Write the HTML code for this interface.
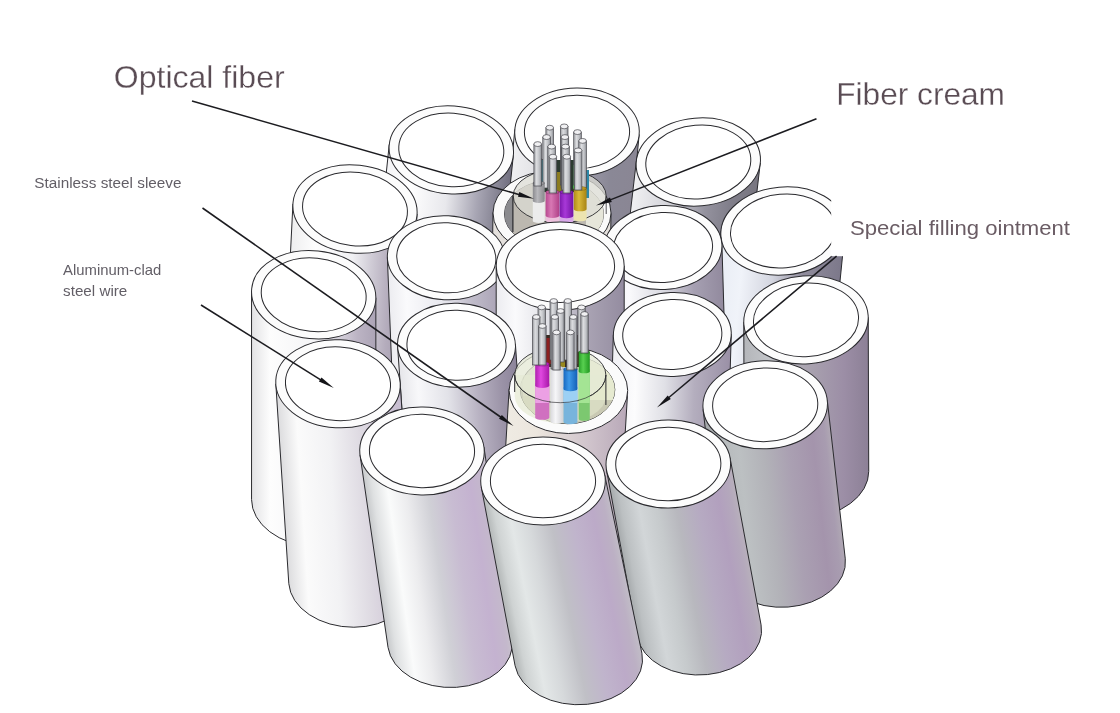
<!DOCTYPE html>
<html><head><meta charset="utf-8"><title>Cable structure</title>
<style>
html,body{margin:0;padding:0;background:#ffffff;}
body{width:1120px;height:713px;overflow:hidden;font-family:"Liberation Sans",sans-serif;}
svg{display:block;}
svg text{font-family:"Liberation Sans",sans-serif;}
#labels{filter:blur(0.35px);}
</style></head><body>
<svg width="1120" height="713" viewBox="0 0 1120 713">
<defs>
<linearGradient id="g_rod" x1="0" y1="0" x2="1" y2="0"><stop offset="0" stop-color="#9a9ca0"/><stop offset="0.35" stop-color="#dcdde0"/><stop offset="0.7" stop-color="#c0c2c6"/><stop offset="1" stop-color="#8c8e94"/></linearGradient>
<linearGradient id="k_pink" x1="0" y1="0" x2="1" y2="0"><stop offset="0" stop-color="#b84890"/><stop offset="0.4" stop-color="#d878b4"/><stop offset="1" stop-color="#b04088"/></linearGradient>
<linearGradient id="k_purple" x1="0" y1="0" x2="1" y2="0"><stop offset="0" stop-color="#7c18ac"/><stop offset="0.4" stop-color="#a838d8"/><stop offset="1" stop-color="#7414a4"/></linearGradient>
<linearGradient id="k_yellow" x1="0" y1="0" x2="1" y2="0"><stop offset="0" stop-color="#b08c18"/><stop offset="0.4" stop-color="#d8b838"/><stop offset="1" stop-color="#a88414"/></linearGradient>
<linearGradient id="k_grey" x1="0" y1="0" x2="1" y2="0"><stop offset="0" stop-color="#8c8c90"/><stop offset="0.4" stop-color="#b8b8bc"/><stop offset="1" stop-color="#88888c"/></linearGradient>
<linearGradient id="k_mag" x1="0" y1="0" x2="1" y2="0"><stop offset="0" stop-color="#b020b0"/><stop offset="0.4" stop-color="#e048e0"/><stop offset="1" stop-color="#a818a8"/></linearGradient>
<linearGradient id="k_white" x1="0" y1="0" x2="1" y2="0"><stop offset="0" stop-color="#d8d8dc"/><stop offset="0.4" stop-color="#f6f6f8"/><stop offset="1" stop-color="#d0d0d4"/></linearGradient>
<linearGradient id="k_blue" x1="0" y1="0" x2="1" y2="0"><stop offset="0" stop-color="#1868c0"/><stop offset="0.4" stop-color="#3c98e8"/><stop offset="1" stop-color="#1460b8"/></linearGradient>
<linearGradient id="k_green" x1="0" y1="0" x2="1" y2="0"><stop offset="0" stop-color="#28a028"/><stop offset="0.4" stop-color="#58d050"/><stop offset="1" stop-color="#209820"/></linearGradient>
<linearGradient id="gc_c2" gradientUnits="userSpaceOnUse" x1="527.21" y1="0" x2="651.81" y2="0" gradientTransform="matrix(1 0 -0.0947 1 0 0)"><stop offset="0" stop-color="#f0f0f2"/><stop offset="0.3" stop-color="#dcdce0"/><stop offset="0.6" stop-color="#9c9aa8"/><stop offset="0.8" stop-color="#8a8896"/><stop offset="1" stop-color="#8a8694"/></linearGradient>
<linearGradient id="gc_c1" gradientUnits="userSpaceOnUse" x1="404.78" y1="0" x2="529.38" y2="0" gradientTransform="matrix(1 0 -0.1053 1 0 0)"><stop offset="0" stop-color="#f4f4f6"/><stop offset="0.2" stop-color="#ffffff"/><stop offset="0.5" stop-color="#e8e8ec"/><stop offset="0.75" stop-color="#a8a6b4"/><stop offset="1" stop-color="#727080"/></linearGradient>
<linearGradient id="gc_c3" gradientUnits="userSpaceOnUse" x1="654.76" y1="0" x2="779.36" y2="0" gradientTransform="matrix(1 0 -0.1158 1 0 0)"><stop offset="0" stop-color="#f0f0f2"/><stop offset="0.3" stop-color="#d4d4da"/><stop offset="0.6" stop-color="#94929e"/><stop offset="0.8" stop-color="#807e8a"/><stop offset="1" stop-color="#787680"/></linearGradient>
<linearGradient id="gc_c4" gradientUnits="userSpaceOnUse" x1="303.15" y1="0" x2="427.75" y2="0" gradientTransform="matrix(1 0 -0.0500 1 0 0)"><stop offset="0" stop-color="#eeeeef"/><stop offset="0.2" stop-color="#fefefe"/><stop offset="0.5" stop-color="#f0f0f3"/><stop offset="0.65" stop-color="#d0ccd6"/><stop offset="0.8" stop-color="#b4acbc"/><stop offset="1" stop-color="#9c94a8"/></linearGradient>
<linearGradient id="gc_c6" gradientUnits="userSpaceOnUse" x1="743.80" y1="0" x2="868.40" y2="0" gradientTransform="matrix(1 0 -0.1000 1 0 0)"><stop offset="0" stop-color="#e8ecf4"/><stop offset="0.2" stop-color="#f0f3f9"/><stop offset="0.45" stop-color="#d4d6e0"/><stop offset="0.7" stop-color="#908c9c"/><stop offset="1" stop-color="#7c788a"/></linearGradient>
<linearGradient id="gc_c9" gradientUnits="userSpaceOnUse" x1="596.58" y1="0" x2="714.58" y2="0" gradientTransform="matrix(1 0 0.0300 1 0 0)"><stop offset="0" stop-color="#eeeef2"/><stop offset="0.2" stop-color="#fafafc"/><stop offset="0.5" stop-color="#d8d8e0"/><stop offset="0.75" stop-color="#a6a0b2"/><stop offset="1" stop-color="#928a9e"/></linearGradient>
<linearGradient id="gc_c7" gradientUnits="userSpaceOnUse" x1="376.99" y1="0" x2="494.99" y2="0" gradientTransform="matrix(1 0 0.0400 1 0 0)"><stop offset="0" stop-color="#ececf0"/><stop offset="0.15" stop-color="#fafafc"/><stop offset="0.45" stop-color="#e8e8ee"/><stop offset="0.7" stop-color="#c0bcca"/><stop offset="1" stop-color="#a49cb0"/></linearGradient>
<linearGradient id="gc_c8" gradientUnits="userSpaceOnUse" x1="496.20" y1="0" x2="624.20" y2="0" gradientTransform="matrix(1 0 0.0000 1 0 0)"><stop offset="0" stop-color="#ececf0"/><stop offset="0.15" stop-color="#fafafc"/><stop offset="0.45" stop-color="#dcdce2"/><stop offset="0.7" stop-color="#aaa4b4"/><stop offset="1" stop-color="#948ca0"/></linearGradient>
<linearGradient id="gc_c10" gradientUnits="userSpaceOnUse" x1="251.40" y1="0" x2="376.00" y2="0" gradientTransform="matrix(1 0 0.0000 1 0 0)"><stop offset="0" stop-color="#e2e2e4"/><stop offset="0.15" stop-color="#fdfdfd"/><stop offset="0.5" stop-color="#f4f4f6"/><stop offset="0.7" stop-color="#d6d2dc"/><stop offset="0.85" stop-color="#bcb4c4"/><stop offset="1" stop-color="#aca4b6"/></linearGradient>
<linearGradient id="gc_c11" gradientUnits="userSpaceOnUse" x1="742.66" y1="0" x2="867.26" y2="0" gradientTransform="matrix(1 0 0.0032 1 0 0)"><stop offset="0" stop-color="#b4b6ba"/><stop offset="0.2" stop-color="#c2c4c8"/><stop offset="0.5" stop-color="#aaa4b0"/><stop offset="0.8" stop-color="#9c8ea6"/><stop offset="1" stop-color="#8c8096"/></linearGradient>
<linearGradient id="gc_c13" gradientUnits="userSpaceOnUse" x1="623.33" y1="0" x2="741.33" y2="0" gradientTransform="matrix(1 0 -0.0300 1 0 0)"><stop offset="0" stop-color="#f0f0f4"/><stop offset="0.2" stop-color="#fcfcfd"/><stop offset="0.45" stop-color="#e0e0e6"/><stop offset="0.7" stop-color="#b4aebe"/><stop offset="1" stop-color="#9a90a6"/></linearGradient>
<linearGradient id="gc_c12" gradientUnits="userSpaceOnUse" x1="373.33" y1="0" x2="491.33" y2="0" gradientTransform="matrix(1 0 0.0700 1 0 0)"><stop offset="0" stop-color="#e6e6ea"/><stop offset="0.15" stop-color="#f8f8fa"/><stop offset="0.4" stop-color="#e2e2e8"/><stop offset="0.65" stop-color="#b8b2c2"/><stop offset="0.85" stop-color="#9c94a8"/><stop offset="1" stop-color="#8c849a"/></linearGradient>
<linearGradient id="gc_c14" gradientUnits="userSpaceOnUse" x1="250.73" y1="0" x2="375.33" y2="0" gradientTransform="matrix(1 0 0.0651 1 0 0)"><stop offset="0" stop-color="#dcdcde"/><stop offset="0.15" stop-color="#fbfbfb"/><stop offset="0.4" stop-color="#f2f2f4"/><stop offset="0.65" stop-color="#dedae2"/><stop offset="0.85" stop-color="#cfc6d6"/><stop offset="1" stop-color="#c6bcd0"/></linearGradient>
<linearGradient id="g_t2" x1="0" y1="0" x2="1" y2="0"><stop offset="0" stop-color="#f0ece4"/><stop offset="0.3" stop-color="#ece6de"/><stop offset="0.7" stop-color="#d0c4cc"/><stop offset="1" stop-color="#b8a8b8"/></linearGradient>
<linearGradient id="gc_c16" gradientUnits="userSpaceOnUse" x1="656.99" y1="0" x2="781.59" y2="0" gradientTransform="matrix(1 0 0.1134 1 0 0)"><stop offset="0" stop-color="#a4a8aa"/><stop offset="0.1" stop-color="#b6babc"/><stop offset="0.25" stop-color="#bcc0c2"/><stop offset="0.45" stop-color="#b2b2b8"/><stop offset="0.65" stop-color="#aaa0b2"/><stop offset="0.85" stop-color="#a494ac"/><stop offset="0.95" stop-color="#a89cb0"/><stop offset="1" stop-color="#b0a8b4"/></linearGradient>
<linearGradient id="gc_c17" gradientUnits="userSpaceOnUse" x1="294.10" y1="0" x2="418.70" y2="0" gradientTransform="matrix(1 0 0.1455 1 0 0)"><stop offset="0" stop-color="#c8cacc"/><stop offset="0.06" stop-color="#dfe1e2"/><stop offset="0.18" stop-color="#fafbfb"/><stop offset="0.32" stop-color="#ececee"/><stop offset="0.5" stop-color="#d0d0d6"/><stop offset="0.68" stop-color="#c8bcd2"/><stop offset="0.85" stop-color="#c4b2d0"/><stop offset="0.95" stop-color="#c4b8cc"/><stop offset="1" stop-color="#c8c2cc"/></linearGradient>
<linearGradient id="gc_c19" gradientUnits="userSpaceOnUse" x1="519.87" y1="0" x2="644.47" y2="0" gradientTransform="matrix(1 0 0.1856 1 0 0)"><stop offset="0" stop-color="#a8acae"/><stop offset="0.06" stop-color="#bcc0c2"/><stop offset="0.2" stop-color="#d2d6d8"/><stop offset="0.35" stop-color="#c6cacc"/><stop offset="0.5" stop-color="#b8b8be"/><stop offset="0.68" stop-color="#b6aac2"/><stop offset="0.85" stop-color="#b2a0be"/><stop offset="0.95" stop-color="#b4a8bc"/><stop offset="1" stop-color="#b8b0bc"/></linearGradient>
<linearGradient id="gc_c18" gradientUnits="userSpaceOnUse" x1="385.04" y1="0" x2="509.64" y2="0" gradientTransform="matrix(1 0 0.1989 1 0 0)"><stop offset="0" stop-color="#b8bcbc"/><stop offset="0.06" stop-color="#cfd3d3"/><stop offset="0.18" stop-color="#e3e7e7"/><stop offset="0.32" stop-color="#d6d9db"/><stop offset="0.5" stop-color="#c0c0c6"/><stop offset="0.68" stop-color="#c0b4cc"/><stop offset="0.85" stop-color="#bcaac8"/><stop offset="0.95" stop-color="#bcb0c4"/><stop offset="1" stop-color="#c0bac6"/></linearGradient>
</defs>
<rect width="1120" height="713" fill="#ffffff"/>
<g id="c2"><path d="M514.84 129.41 L496.84 319.41 A62.30 44.00 -0.65 0 0 621.16 324.59 L639.16 134.59 Z" fill="url(#gc_c2)" stroke="#2a2a2e" stroke-width="1"/><ellipse cx="577.00" cy="132.00" rx="62.30" ry="44.00" transform="rotate(-0.65 577.00 132.00)" fill="#fcfcfc" stroke="#2a2a2e" stroke-width="1"/><ellipse cx="577.00" cy="132.00" rx="52.60" ry="36.80" transform="rotate(-0.65 577.00 132.00)" fill="#ffffff" stroke="#2a2a2e" stroke-width="1"/></g>
<g id="c1"><path d="M389.25 144.48 L369.25 334.48 A62.30 44.00 3.98 0 0 493.35 345.32 L513.35 155.32 Z" fill="url(#gc_c1)" stroke="#2a2a2e" stroke-width="1"/><ellipse cx="451.30" cy="149.90" rx="62.30" ry="44.00" transform="rotate(3.98 451.30 149.90)" fill="#fcfcfc" stroke="#2a2a2e" stroke-width="1"/><ellipse cx="451.30" cy="149.90" rx="52.60" ry="36.80" transform="rotate(3.98 451.30 149.90)" fill="#ffffff" stroke="#2a2a2e" stroke-width="1"/></g>
<g id="c3"><path d="M636.33 161.04 L614.33 351.04 A62.30 44.00 -4.91 0 0 738.27 352.96 L760.27 162.96 Z" fill="url(#gc_c3)" stroke="#2a2a2e" stroke-width="1"/><ellipse cx="698.30" cy="162.00" rx="62.30" ry="44.00" transform="rotate(-4.91 698.30 162.00)" fill="#fcfcfc" stroke="#2a2a2e" stroke-width="1"/><ellipse cx="698.30" cy="162.00" rx="52.60" ry="36.80" transform="rotate(-4.91 698.30 162.00)" fill="#ffffff" stroke="#2a2a2e" stroke-width="1"/></g>
<g id="tube1"><path d="M493.00 212.55 L490.00 412.55 A59.00 42.00 0.00 0 0 608.00 413.45 L611.00 213.45 Z" fill="#e4e0dc" stroke="#2a2a2e" stroke-width="1"/><ellipse cx="552.0" cy="213.0" rx="59" ry="42" fill="#fafafa" stroke="#2a2a2e" stroke-width="1"/><clipPath id="cl_t1"><ellipse cx="554.0" cy="214.0" rx="49.5" ry="34"/></clipPath><ellipse cx="554.0" cy="214.0" rx="49.5" ry="34" fill="#c4c2bc" stroke="#2a2a2e" stroke-width="1"/><g clip-path="url(#cl_t1)"><rect x="500" y="170" width="13" height="80" fill="#8a8a8e"/><rect x="513" y="180" width="94" height="70" fill="#bcb8b0"/><rect x="586" y="180" width="21" height="70" fill="#e6e6da"/></g><ellipse cx="559.7" cy="196" rx="46.5" ry="27" fill="#dcdcd4" fill-opacity="0.75" stroke="#2a2a2e" stroke-width="0.9"/><line x1="512.9" y1="196" x2="512.9" y2="232" stroke="#2a2a2e" stroke-width="1.2"/><line x1="606.2" y1="196" x2="606.2" y2="214" stroke="#2a2a2e" stroke-width="0.8"/><rect x="540" y="160" width="46" height="32" fill="#2c3a30"/><rect x="541" y="160" width="8" height="28" fill="#3c98a8"/><rect x="573" y="165" width="8" height="24" fill="#48b048"/><rect x="582" y="170" width="7" height="28" fill="#2c88a8"/><rect x="556" y="172" width="7" height="20" fill="#8c7c20"/><rect x="545.90" y="127.70" width="7.60" height="57.30" fill="url(#g_rod)" stroke="#46464c" stroke-width="0.7"/><ellipse cx="549.70" cy="127.70" rx="3.80" ry="2.43" fill="#f0f0f2" stroke="#46464c" stroke-width="0.7"/><rect x="560.40" y="126.40" width="7.60" height="58.60" fill="url(#g_rod)" stroke="#46464c" stroke-width="0.7"/><ellipse cx="564.20" cy="126.40" rx="3.80" ry="2.43" fill="#f0f0f2" stroke="#46464c" stroke-width="0.7"/><rect x="573.70" y="132.10" width="7.60" height="52.90" fill="url(#g_rod)" stroke="#46464c" stroke-width="0.7"/><ellipse cx="577.50" cy="132.10" rx="3.80" ry="2.43" fill="#f0f0f2" stroke="#46464c" stroke-width="0.7"/><rect x="542.80" y="137.10" width="7.60" height="50.90" fill="url(#g_rod)" stroke="#46464c" stroke-width="0.7"/><ellipse cx="546.60" cy="137.10" rx="3.80" ry="2.43" fill="#f0f0f2" stroke="#46464c" stroke-width="0.7"/><rect x="561.10" y="137.10" width="7.60" height="50.90" fill="url(#g_rod)" stroke="#46464c" stroke-width="0.7"/><ellipse cx="564.90" cy="137.10" rx="3.80" ry="2.43" fill="#f0f0f2" stroke="#46464c" stroke-width="0.7"/><rect x="578.80" y="140.90" width="7.60" height="47.10" fill="url(#g_rod)" stroke="#46464c" stroke-width="0.7"/><ellipse cx="582.60" cy="140.90" rx="3.80" ry="2.43" fill="#f0f0f2" stroke="#46464c" stroke-width="0.7"/><path d="M532.80 199.00 L532.80 221.00 A5.95 1.90 0 0 0 544.70 221.00 L544.70 199.00 Z" fill="#ececec"/><path d="M532.80 183.00 L532.80 201.00 A5.95 1.90 0 0 0 544.70 201.00 L544.70 183.00 Z" fill="url(#k_grey)"/><ellipse cx="538.75" cy="183.00" rx="5.95" ry="1.90" fill="url(#k_grey)" stroke="#00000055" stroke-width="0.5"/><path d="M573.80 207.30 L573.80 219.30 A6.40 2.05 0 0 0 586.60 219.30 L586.60 207.30 Z" fill="#ece4b0"/><path d="M573.80 188.40 L573.80 209.30 A6.40 2.05 0 0 0 586.60 209.30 L586.60 188.40 Z" fill="url(#k_yellow)"/><ellipse cx="580.20" cy="188.40" rx="6.40" ry="2.05" fill="url(#k_yellow)" stroke="#00000055" stroke-width="0.5"/><path d="M545.60 213.70 L545.60 220.50 A6.85 2.19 0 0 0 559.30 220.50 L559.30 213.70 Z" fill="#ecc0dc"/><path d="M545.60 192.00 L545.60 215.70 A6.85 2.19 0 0 0 559.30 215.70 L559.30 192.00 Z" fill="url(#k_pink)"/><ellipse cx="552.45" cy="192.00" rx="6.85" ry="2.19" fill="url(#k_pink)" stroke="#00000055" stroke-width="0.5"/><path d="M559.60 214.00 L559.60 221.00 A6.85 2.19 0 0 0 573.30 221.00 L573.30 214.00 Z" fill="#d8a8e8"/><path d="M559.60 192.00 L559.60 216.00 A6.85 2.19 0 0 0 573.30 216.00 L573.30 192.00 Z" fill="url(#k_purple)"/><ellipse cx="566.45" cy="192.00" rx="6.85" ry="2.19" fill="url(#k_purple)" stroke="#00000055" stroke-width="0.5"/><rect x="533.90" y="144.10" width="7.60" height="41.90" fill="url(#g_rod)" stroke="#46464c" stroke-width="0.7"/><ellipse cx="537.70" cy="144.10" rx="3.80" ry="2.43" fill="#f0f0f2" stroke="#46464c" stroke-width="0.7"/><rect x="547.80" y="146.60" width="7.60" height="43.40" fill="url(#g_rod)" stroke="#46464c" stroke-width="0.7"/><ellipse cx="551.60" cy="146.60" rx="3.80" ry="2.43" fill="#f0f0f2" stroke="#46464c" stroke-width="0.7"/><rect x="561.70" y="146.60" width="7.60" height="43.40" fill="url(#g_rod)" stroke="#46464c" stroke-width="0.7"/><ellipse cx="565.50" cy="146.60" rx="3.80" ry="2.43" fill="#f0f0f2" stroke="#46464c" stroke-width="0.7"/><rect x="574.30" y="150.40" width="7.60" height="39.60" fill="url(#g_rod)" stroke="#46464c" stroke-width="0.7"/><ellipse cx="578.10" cy="150.40" rx="3.80" ry="2.43" fill="#f0f0f2" stroke="#46464c" stroke-width="0.7"/><rect x="549.10" y="156.70" width="7.60" height="36.30" fill="url(#g_rod)" stroke="#46464c" stroke-width="0.7"/><ellipse cx="552.90" cy="156.70" rx="3.80" ry="2.43" fill="#f0f0f2" stroke="#46464c" stroke-width="0.7"/><rect x="563.00" y="156.70" width="7.60" height="36.30" fill="url(#g_rod)" stroke="#46464c" stroke-width="0.7"/><ellipse cx="566.80" cy="156.70" rx="3.80" ry="2.43" fill="#f0f0f2" stroke="#46464c" stroke-width="0.7"/></g>
<g id="c4"><path d="M292.93 203.98 L282.93 403.98 A62.30 44.00 6.39 0 0 407.07 414.02 L417.07 214.02 Z" fill="url(#gc_c4)" stroke="#2a2a2e" stroke-width="1"/><ellipse cx="355.00" cy="209.00" rx="62.30" ry="44.00" transform="rotate(6.39 355.00 209.00)" fill="#fcfcfc" stroke="#2a2a2e" stroke-width="1"/><ellipse cx="355.00" cy="209.00" rx="52.60" ry="36.80" transform="rotate(6.39 355.00 209.00)" fill="#ffffff" stroke="#2a2a2e" stroke-width="1"/></g>
<g id="c6"><path d="M720.99 230.68 L703.99 400.68 A62.30 44.00 -5.19 0 0 828.01 401.32 L845.01 231.32 Z" fill="url(#gc_c6)" stroke="#2a2a2e" stroke-width="1"/><ellipse cx="783.00" cy="231.00" rx="62.30" ry="44.00" transform="rotate(-5.19 783.00 231.00)" fill="#fcfcfc" stroke="#2a2a2e" stroke-width="1"/><ellipse cx="783.00" cy="231.00" rx="52.60" ry="36.80" transform="rotate(-5.19 783.00 231.00)" fill="#ffffff" stroke="#2a2a2e" stroke-width="1"/></g>
<g id="c9"><path d="M604.05 249.84 L610.05 449.84 A59.00 42.00 -2.84 0 0 727.95 445.16 L721.95 245.16 Z" fill="url(#gc_c9)" stroke="#2a2a2e" stroke-width="1"/><ellipse cx="663.00" cy="247.50" rx="59.00" ry="42.00" transform="rotate(-2.84 663.00 247.50)" fill="#fcfcfc" stroke="#2a2a2e" stroke-width="1"/><ellipse cx="663.00" cy="247.50" rx="49.60" ry="35.00" transform="rotate(-2.84 663.00 247.50)" fill="#ffffff" stroke="#2a2a2e" stroke-width="1"/></g>
<g id="c7"><path d="M387.36 257.46 L395.36 457.46 A59.00 42.00 3.03 0 0 513.24 458.14 L505.24 258.14 Z" fill="url(#gc_c7)" stroke="#2a2a2e" stroke-width="1"/><ellipse cx="446.30" cy="257.80" rx="59.00" ry="42.00" transform="rotate(3.03 446.30 257.80)" fill="#fcfcfc" stroke="#2a2a2e" stroke-width="1"/><ellipse cx="446.30" cy="257.80" rx="49.60" ry="35.00" transform="rotate(3.03 446.30 257.80)" fill="#ffffff" stroke="#2a2a2e" stroke-width="1"/></g>
<g id="c8"><path d="M496.20 266.00 L496.20 486.00 A64.00 44.00 -0.01 0 0 624.20 486.00 L624.20 266.00 Z" fill="url(#gc_c8)" stroke="#2a2a2e" stroke-width="1"/><ellipse cx="560.20" cy="266.00" rx="64.00" ry="44.00" transform="rotate(-0.01 560.20 266.00)" fill="#fcfcfc" stroke="#2a2a2e" stroke-width="1"/><ellipse cx="560.20" cy="266.00" rx="54.40" ry="36.60" transform="rotate(-0.01 560.20 266.00)" fill="#ffffff" stroke="#2a2a2e" stroke-width="1"/></g>
<g id="c10"><path d="M251.55 291.65 L251.55 499.65 A62.30 44.00 5.71 0 0 375.85 505.85 L375.85 297.85 Z" fill="url(#gc_c10)" stroke="#2a2a2e" stroke-width="1"/><ellipse cx="313.70" cy="294.75" rx="62.30" ry="44.00" transform="rotate(5.71 313.70 294.75)" fill="#fcfcfc" stroke="#2a2a2e" stroke-width="1"/><ellipse cx="313.70" cy="294.75" rx="52.60" ry="36.80" transform="rotate(5.71 313.70 294.75)" fill="#ffffff" stroke="#2a2a2e" stroke-width="1"/></g>
<g id="c11"><path d="M743.78 322.13 L744.28 476.13 A62.30 44.00 -4.10 0 0 868.72 471.47 L868.22 317.47 Z" fill="url(#gc_c11)" stroke="#2a2a2e" stroke-width="1"/><ellipse cx="806.00" cy="319.80" rx="62.30" ry="44.00" transform="rotate(-4.10 806.00 319.80)" fill="#fcfcfc" stroke="#2a2a2e" stroke-width="1"/><ellipse cx="806.00" cy="319.80" rx="52.60" ry="36.80" transform="rotate(-4.10 806.00 319.80)" fill="#ffffff" stroke="#2a2a2e" stroke-width="1"/></g>
<g id="c13"><path d="M613.33 334.71 L607.33 534.71 A59.00 42.00 -2.19 0 0 725.27 534.29 L731.27 334.29 Z" fill="url(#gc_c13)" stroke="#2a2a2e" stroke-width="1"/><ellipse cx="672.30" cy="334.50" rx="59.00" ry="42.00" transform="rotate(-2.19 672.30 334.50)" fill="#fcfcfc" stroke="#2a2a2e" stroke-width="1"/><ellipse cx="672.30" cy="334.50" rx="49.60" ry="35.00" transform="rotate(-2.19 672.30 334.50)" fill="#ffffff" stroke="#2a2a2e" stroke-width="1"/></g>
<g id="c12"><path d="M397.59 346.42 L411.59 546.42 A59.00 42.00 1.91 0 0 529.41 544.18 L515.41 344.18 Z" fill="url(#gc_c12)" stroke="#2a2a2e" stroke-width="1"/><ellipse cx="456.50" cy="345.30" rx="59.00" ry="42.00" transform="rotate(1.91 456.50 345.30)" fill="#fcfcfc" stroke="#2a2a2e" stroke-width="1"/><ellipse cx="456.50" cy="345.30" rx="49.60" ry="35.00" transform="rotate(1.91 456.50 345.30)" fill="#ffffff" stroke="#2a2a2e" stroke-width="1"/></g>
<g id="c14"><path d="M275.82 383.98 L288.82 583.73 A62.30 44.00 3.31 0 0 413.18 583.27 L400.18 383.52 Z" fill="url(#gc_c14)" stroke="#2a2a2e" stroke-width="1"/><ellipse cx="338.00" cy="383.75" rx="62.30" ry="44.00" transform="rotate(3.31 338.00 383.75)" fill="#fcfcfc" stroke="#2a2a2e" stroke-width="1"/><ellipse cx="338.00" cy="383.75" rx="52.60" ry="36.80" transform="rotate(3.31 338.00 383.75)" fill="#ffffff" stroke="#2a2a2e" stroke-width="1"/></g>
<g id="tube2"><path d="M509.16 388.63 L497.16 588.63 A59.30 43.00 0.00 0 0 615.64 592.37 L627.64 392.37 Z" fill="url(#g_t2)" stroke="#2a2a2e" stroke-width="1"/><ellipse cx="568.4" cy="390.5" rx="59.3" ry="43" fill="#fbfbfb" stroke="#2a2a2e" stroke-width="1"/><clipPath id="cl_t2"><ellipse cx="567.6" cy="389.7" rx="47.2" ry="34.0"/></clipPath><ellipse cx="567.6" cy="389.7" rx="47.2" ry="34.0" fill="#cfcfc3" stroke="#2a2a2e" stroke-width="1"/><g clip-path="url(#cl_t2)"><rect x="515" y="350" width="8" height="80" fill="#b2b2ac"/><rect x="523" y="396" width="90" height="40" fill="#c9c9b3"/><rect x="590" y="352" width="26" height="48" fill="#e6ead0"/></g><path d="M514.7 375.0 L514.7 396 A45.6 27 0 0 0 605.9 396 L605.9 375.0 Z" fill="#e2e8cc" fill-opacity="0.6"/><ellipse cx="560.3" cy="375.0" rx="45.6" ry="27.7" fill="#e6ead6" fill-opacity="0.75" stroke="#2a2a2e" stroke-width="0.9"/><line x1="514.7" y1="375.0" x2="514.7" y2="392" stroke="#2a2a2e" stroke-width="1"/><line x1="605.9" y1="375.0" x2="605.9" y2="405" stroke="#2a2a2e" stroke-width="1"/><rect x="541" y="335" width="42" height="32" fill="#3a2a20"/><rect x="546" y="338" width="6" height="26" fill="#8c2020"/><rect x="559" y="345" width="6" height="22" fill="#98881c"/><rect x="572" y="342" width="6" height="22" fill="#50402c"/><rect x="550.00" y="301.00" width="7.40" height="59.00" fill="url(#g_rod)" stroke="#46464c" stroke-width="0.7"/><ellipse cx="553.70" cy="301.00" rx="3.70" ry="2.37" fill="#f0f0f2" stroke="#46464c" stroke-width="0.7"/><rect x="564.10" y="301.00" width="7.40" height="59.00" fill="url(#g_rod)" stroke="#46464c" stroke-width="0.7"/><ellipse cx="567.80" cy="301.00" rx="3.70" ry="2.37" fill="#f0f0f2" stroke="#46464c" stroke-width="0.7"/><rect x="538.00" y="307.40" width="7.40" height="54.60" fill="url(#g_rod)" stroke="#46464c" stroke-width="0.7"/><ellipse cx="541.70" cy="307.40" rx="3.70" ry="2.37" fill="#f0f0f2" stroke="#46464c" stroke-width="0.7"/><rect x="577.80" y="307.40" width="7.40" height="44.60" fill="url(#g_rod)" stroke="#46464c" stroke-width="0.7"/><ellipse cx="581.50" cy="307.40" rx="3.70" ry="2.37" fill="#f0f0f2" stroke="#46464c" stroke-width="0.7"/><rect x="556.80" y="311.00" width="7.40" height="51.00" fill="url(#g_rod)" stroke="#46464c" stroke-width="0.7"/><ellipse cx="560.50" cy="311.00" rx="3.70" ry="2.37" fill="#f0f0f2" stroke="#46464c" stroke-width="0.7"/><path d="M578.70 369.50 L578.70 419.00 A5.55 1.83 0 0 0 589.80 419.00 L589.80 369.50 Z" fill="#7cc870"/><rect x="578.70" y="369.50" width="11.10" height="33.50" fill="#a4e494"/><path d="M578.70 352.00 L578.70 371.50 A5.55 1.83 0 0 0 589.80 371.50 L589.80 352.00 Z" fill="url(#k_green)"/><ellipse cx="584.25" cy="352.00" rx="5.55" ry="1.83" fill="url(#k_green)" stroke="#00000044" stroke-width="0.5"/><path d="M535.20 383.60 L535.20 417.50 A7.05 2.33 0 0 0 549.30 417.50 L549.30 383.60 Z" fill="#d070c0"/><rect x="535.20" y="383.60" width="14.10" height="19.40" fill="#eca0e4"/><path d="M535.20 364.00 L535.20 385.60 A7.05 2.33 0 0 0 549.30 385.60 L549.30 364.00 Z" fill="url(#k_mag)"/><ellipse cx="542.25" cy="364.00" rx="7.05" ry="2.33" fill="url(#k_mag)" stroke="#00000044" stroke-width="0.5"/><path d="M550.40 419.50 L550.40 421.50 A6.55 2.16 0 0 0 563.50 421.50 L563.50 419.50 Z" fill="#dcdcc4"/><rect x="550.40" y="419.50" width="13.10" height="-16.50" fill="#f2f2ee"/><path d="M550.40 368.00 L550.40 421.50 A6.55 2.16 0 0 0 563.50 421.50 L563.50 368.00 Z" fill="url(#k_white)"/><ellipse cx="556.95" cy="368.00" rx="6.55" ry="2.16" fill="url(#k_white)" stroke="#00000044" stroke-width="0.5"/><path d="M563.50 387.00 L563.50 422.00 A6.95 2.29 0 0 0 577.40 422.00 L577.40 387.00 Z" fill="#78b4dc"/><rect x="563.50" y="387.00" width="13.90" height="16.00" fill="#9cd0f4"/><path d="M563.50 369.00 L563.50 389.00 A6.95 2.29 0 0 0 577.40 389.00 L577.40 369.00 Z" fill="url(#k_blue)"/><ellipse cx="570.45" cy="369.00" rx="6.95" ry="2.29" fill="url(#k_blue)" stroke="#00000044" stroke-width="0.5"/><path d="M514.7 375.0 A45.6 27.7 0 0 0 605.9 375.0" fill="none" stroke="#2a2a2e" stroke-width="0.8" stroke-opacity="0.8"/><rect x="532.60" y="317.00" width="7.40" height="48.00" fill="url(#g_rod)" stroke="#46464c" stroke-width="0.7"/><ellipse cx="536.30" cy="317.00" rx="3.70" ry="2.37" fill="#f0f0f2" stroke="#46464c" stroke-width="0.7"/><rect x="551.10" y="317.00" width="7.40" height="52.00" fill="url(#g_rod)" stroke="#46464c" stroke-width="0.7"/><ellipse cx="554.80" cy="317.00" rx="3.70" ry="2.37" fill="#f0f0f2" stroke="#46464c" stroke-width="0.7"/><rect x="569.60" y="317.00" width="7.40" height="52.00" fill="url(#g_rod)" stroke="#46464c" stroke-width="0.7"/><ellipse cx="573.30" cy="317.00" rx="3.70" ry="2.37" fill="#f0f0f2" stroke="#46464c" stroke-width="0.7"/><rect x="580.80" y="314.00" width="7.40" height="39.00" fill="url(#g_rod)" stroke="#46464c" stroke-width="0.7"/><ellipse cx="584.50" cy="314.00" rx="3.70" ry="2.37" fill="#f0f0f2" stroke="#46464c" stroke-width="0.7"/><rect x="538.70" y="326.00" width="7.40" height="39.00" fill="url(#g_rod)" stroke="#46464c" stroke-width="0.7"/><ellipse cx="542.40" cy="326.00" rx="3.70" ry="2.37" fill="#f0f0f2" stroke="#46464c" stroke-width="0.7"/><rect x="552.80" y="332.40" width="7.40" height="37.60" fill="url(#g_rod)" stroke="#46464c" stroke-width="0.7"/><ellipse cx="556.50" cy="332.40" rx="3.70" ry="2.37" fill="#f0f0f2" stroke="#46464c" stroke-width="0.7"/><rect x="566.70" y="332.40" width="7.40" height="37.60" fill="url(#g_rod)" stroke="#46464c" stroke-width="0.7"/><ellipse cx="570.40" cy="332.40" rx="3.70" ry="2.37" fill="#f0f0f2" stroke="#46464c" stroke-width="0.7"/></g>
<g id="c16"><path d="M703.12 409.46 L721.12 568.16 A62.30 44.00 -2.13 0 0 845.28 558.84 L827.28 400.14 Z" fill="url(#gc_c16)" stroke="#2a2a2e" stroke-width="1"/><ellipse cx="765.20" cy="404.80" rx="62.30" ry="44.00" transform="rotate(-2.13 765.20 404.80)" fill="#fcfcfc" stroke="#2a2a2e" stroke-width="1"/><ellipse cx="765.20" cy="404.80" rx="52.60" ry="36.80" transform="rotate(-2.13 765.20 404.80)" fill="#ffffff" stroke="#2a2a2e" stroke-width="1"/></g>
<g id="c17"><path d="M360.03 454.86 L388.03 647.36 A62.30 44.00 1.19 0 0 511.97 639.64 L483.97 447.14 Z" fill="url(#gc_c17)" stroke="#2a2a2e" stroke-width="1"/><ellipse cx="422.00" cy="451.00" rx="62.30" ry="44.00" transform="rotate(1.19 422.00 451.00)" fill="#fcfcfc" stroke="#2a2a2e" stroke-width="1"/><ellipse cx="422.00" cy="451.00" rx="52.60" ry="36.80" transform="rotate(1.19 422.00 451.00)" fill="#ffffff" stroke="#2a2a2e" stroke-width="1"/></g>
<g id="c19"><path d="M606.53 470.15 L637.53 637.15 A62.30 44.00 -0.81 0 0 761.07 624.85 L730.07 457.85 Z" fill="url(#gc_c19)" stroke="#2a2a2e" stroke-width="1"/><ellipse cx="668.30" cy="464.00" rx="62.30" ry="44.00" transform="rotate(-0.81 668.30 464.00)" fill="#fcfcfc" stroke="#2a2a2e" stroke-width="1"/><ellipse cx="668.30" cy="464.00" rx="52.60" ry="36.80" transform="rotate(-0.81 668.30 464.00)" fill="#ffffff" stroke="#2a2a2e" stroke-width="1"/></g>
<g id="c18"><path d="M481.31 487.07 L515.08 665.74 A64.04 45.23 0.10 0 0 641.92 653.26 L604.69 474.93 Z" fill="url(#gc_c18)" stroke="#2a2a2e" stroke-width="1"/><ellipse cx="543.00" cy="481.00" rx="62.30" ry="44.00" transform="rotate(0.10 543.00 481.00)" fill="#fcfcfc" stroke="#2a2a2e" stroke-width="1"/><ellipse cx="543.00" cy="481.00" rx="52.60" ry="36.80" transform="rotate(0.10 543.00 481.00)" fill="#ffffff" stroke="#2a2a2e" stroke-width="1"/></g>
<rect x="831.2" y="197" width="262" height="59.2" fill="#ffffff"/>
<line x1="192.0" y1="101.0" x2="520.5" y2="195.0" stroke="#1c1c20" stroke-width="1.55"/><polygon points="534.0,198.8 518.0,196.7 519.3,192.1" fill="#141418"/>
<line x1="816.5" y1="118.7" x2="609.0" y2="200.4" stroke="#1c1c20" stroke-width="1.55"/><polygon points="596.0,205.5 610.0,197.4 611.8,201.9" fill="#141418"/>
<line x1="202.5" y1="208.0" x2="502.0" y2="418.0" stroke="#1c1c20" stroke-width="1.55"/><polygon points="513.5,426.0 499.0,418.8 501.8,414.9" fill="#141418"/>
<line x1="201.0" y1="305.0" x2="321.9" y2="380.6" stroke="#1c1c20" stroke-width="1.55"/><polygon points="333.8,388.0 318.9,381.6 321.5,377.5" fill="#141418"/>
<line x1="836.6" y1="256.2" x2="667.7" y2="398.5" stroke="#1c1c20" stroke-width="1.55"/><polygon points="657.0,407.5 667.7,395.4 670.8,399.0" fill="#141418"/>
<g id="labels">
<text x="113.8" y="88.0" font-size="32.00" fill="#5a4c54" font-weight="400" stroke="#ffffff" stroke-width="0.30" textLength="170.8" lengthAdjust="spacingAndGlyphs">Optical fiber</text>
<text x="836.2" y="104.6" font-size="32.20" fill="#5a4c54" font-weight="400" stroke="#ffffff" stroke-width="0.30" textLength="168.8" lengthAdjust="spacingAndGlyphs">Fiber cream</text>
<text x="34.3" y="187.5" font-size="15.40" fill="#625e66" font-weight="400" stroke="#ffffff" stroke-width="0.00" textLength="147.2" lengthAdjust="spacingAndGlyphs">Stainless steel sleeve</text>
<text x="63.1" y="275.4" font-size="15.00" fill="#625e66" font-weight="400" stroke="#ffffff" stroke-width="0.00" textLength="98.2" lengthAdjust="spacingAndGlyphs">Aluminum-clad</text>
<text x="63.1" y="295.8" font-size="15.00" fill="#625e66" font-weight="400" stroke="#ffffff" stroke-width="0.00" textLength="64.2" lengthAdjust="spacingAndGlyphs">steel wire</text>
<text x="850.0" y="234.6" font-size="20.60" fill="#6a5c64" font-weight="400" stroke="#ffffff" stroke-width="0.00" textLength="220.0" lengthAdjust="spacingAndGlyphs">Special filling ointment</text>
</g>
</svg>
</body></html>
